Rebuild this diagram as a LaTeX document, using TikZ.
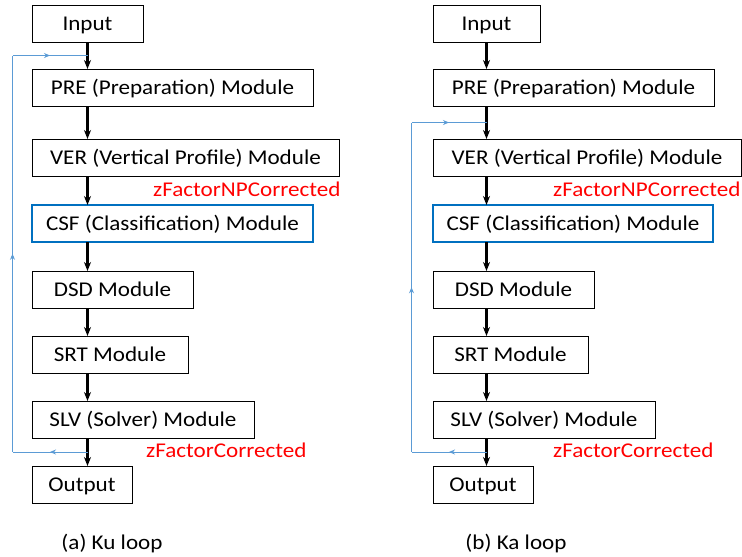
\documentclass[tikz,border=0pt]{standalone}
\usepackage{fontspec}
\setmainfont{Carlito}[FakeStretch=1.1]
\usetikzlibrary{arrows.meta,positioning,calc,decorations.markings}

\definecolor{csfblue}{RGB}{0,112,192}
\definecolor{loopblue}{RGB}{91,155,213}
\definecolor{zred}{RGB}{255,0,0}

\tikzset{
  module/.style={draw, line width=0.8pt, minimum height=37pt, anchor=north west,
    inner sep=0pt, outer sep=0pt, text height=13.5pt, text depth=0pt},
  keymodule/.style={module, draw=csfblue, line width=2.4pt},
  flow/.style={->, >={Stealth[length=9pt,width=7pt]}, line width=2.2pt},
  feedback/.style={loopblue, line width=1pt, postaction={decorate},
    decoration={markings, mark=at position 0.5 with {\arrow{Stealth[length=6pt,width=5pt]}}}},
  zlabel/.style={text=zred, inner sep=0pt, anchor=west, text height=13.5pt, text depth=0pt},
  caption/.style={inner sep=0pt, text height=13.5pt, text depth=0pt}
}

\begin{document}
\begin{tikzpicture}[x=1pt, y=1pt, font=\fontsize{21}{25}\selectfont]
    \useasboundingbox (0,0) rectangle (742,-557);

    % Ku loop: modules
    \node [module, minimum width=111pt] (kuin) at (32,-5) {Input};
    \node [module, minimum width=281pt, below=27pt of kuin.south west, anchor=north west] (kupre) {PRE (Preparation) Module};
    \node [module, minimum width=307pt, below=33pt of kupre.south west, anchor=north west] (kuver) {VER (Vertical Profile) Module};
    \node [keymodule, minimum width=281pt, below=29pt of kuver.south west, anchor=north west] (kucsf) {CSF (Classification) Module};
    \node [module, minimum width=161pt, below=29pt of kucsf.south west, anchor=north west] (kudsd) {DSD Module};
    \node [module, minimum width=156pt, below=28pt of kudsd.south west, anchor=north west] (kusrt) {SRT Module};
    \node [module, minimum width=222pt, below=28pt of kusrt.south west, anchor=north west] (kuslv) {SLV (Solver) Module};
    \node [module, minimum width=100pt, below=28pt of kuslv.south west, anchor=north west] (kuout) {Output};

    % Ku loop: labels
    \node [zlabel] (kunp) at ($(kuver.south west)+(121,-14)$) {zFactorNPCorrected};
    \node [zlabel] (kucor) at ($(kuslv.south west)+(114,-13)$) {zFactorCorrected};
    \node [caption] (kucap) at ($(kuout.south west)+(80,-40)$) {(a) Ku loop};

    % Ku loop: flow
    \draw [flow] (kuin.south) -- (kuin.south |- kupre.north);
    \draw [flow] (kuin.south |- kupre.south) -- (kuin.south |- kuver.north);
    \draw [flow] (kuin.south |- kuver.south) -- (kuin.south |- kucsf.north);
    \draw [flow] (kuin.south |- kucsf.south) -- (kuin.south |- kudsd.north);
    \draw [flow] (kuin.south |- kudsd.south) -- (kuin.south |- kusrt.north);
    \draw [flow] (kuin.south |- kusrt.south) -- (kuin.south |- kuslv.north);
    \draw [flow] (kuin.south |- kuslv.south) -- (kuin.south |- kuout.north);

    % Ku loop: feedback
    \coordinate (kutap) at ($(kuin.south |- kuslv.south)!0.5!(kuin.south |- kuout.north)$);
    \coordinate (kujoin) at ($(kuin.south)!0.5!(kuin.south |- kupre.north)$);
    \coordinate (kubl) at ($(kutap)+(-75,0)$);
    \coordinate (kutl) at ($(kujoin)+(-75,0)$);
    \draw [feedback] (kutap) -- (kubl);
    \draw [feedback] (kubl) -- (kutl);
    \draw [feedback] (kutl) -- (kujoin);

    % Ka loop: modules
    \node [module, minimum width=107pt] (kain) at (433,-5) {Input};
    \node [module, minimum width=281pt, below=27pt of kain.south west, anchor=north west] (kapre) {PRE (Preparation) Module};
    \node [module, minimum width=308pt, below=33pt of kapre.south west, anchor=north west] (kaver) {VER (Vertical Profile) Module};
    \node [keymodule, minimum width=280pt, below=29pt of kaver.south west, anchor=north west] (kacsf) {CSF (Classification) Module};
    \node [module, minimum width=161pt, below=29pt of kacsf.south west, anchor=north west] (kadsd) {DSD Module};
    \node [module, minimum width=155pt, below=28pt of kadsd.south west, anchor=north west] (kasrt) {SRT Module};
    \node [module, minimum width=222pt, below=28pt of kasrt.south west, anchor=north west] (kaslv) {SLV (Solver) Module};
    \node [module, minimum width=100pt, below=28pt of kaslv.south west, anchor=north west] (kaout) {Output};

    % Ka loop: labels
    \node [zlabel] (kanp) at ($(kaver.south west)+(120,-14)$) {zFactorNPCorrected};
    \node [zlabel] (kacor) at ($(kaslv.south west)+(120,-13)$) {zFactorCorrected};
    \node [caption] (kacap) at ($(kaout.south west)+(83,-40)$) {(b) Ka loop};

    % Ka loop: flow
    \draw [flow] (kain.south) -- (kain.south |- kapre.north);
    \draw [flow] (kain.south |- kapre.south) -- (kain.south |- kaver.north);
    \draw [flow] (kain.south |- kaver.south) -- (kain.south |- kacsf.north);
    \draw [flow] (kain.south |- kacsf.south) -- (kain.south |- kadsd.north);
    \draw [flow] (kain.south |- kadsd.south) -- (kain.south |- kasrt.north);
    \draw [flow] (kain.south |- kasrt.south) -- (kain.south |- kaslv.north);
    \draw [flow] (kain.south |- kaslv.south) -- (kain.south |- kaout.north);

    % Ka loop: feedback
    \coordinate (katap) at ($(kain.south |- kaslv.south)!0.5!(kain.south |- kaout.north)$);
    \coordinate (kajoin) at ($(kain.south |- kapre.south)!0.5!(kain.south |- kaver.north)$);
    \coordinate (kabl) at ($(katap)+(-75,0)$);
    \coordinate (katl) at ($(kajoin)+(-75,0)$);
    \draw [feedback] (katap) -- (kabl);
    \draw [feedback] (kabl) -- (katl);
    \draw [feedback] (katl) -- (kajoin);

\end{tikzpicture}
\end{document}
